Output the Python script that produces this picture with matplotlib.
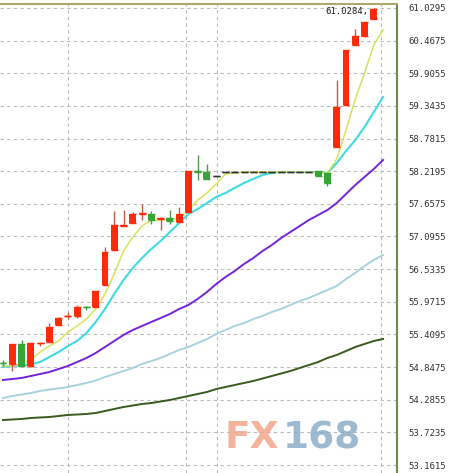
import numpy as np
import matplotlib.pyplot as plt

# candle data (price), one entry per bar
opens = [54.925, 54.901, 55.245, 54.866, 55.262, 55.280, 55.572, 55.727, 55.727, 55.885,
         55.882, 56.260, 56.863, 57.280, 57.328, 57.490, 57.490, 57.400, 57.414, 57.345,
         57.510, 58.215, 58.206, 58.140, 58.206, 58.206, 58.206, 58.206, 58.206, 58.206,
         58.206, 58.206, 58.206, 58.206, 58.223, 58.180, 58.636, 59.360, 60.393, 60.547,
         60.840]
highs = [54.970, 55.245, 55.314, 55.262, 55.270, 55.607, 55.710, 55.796, 55.917, 55.899,
         56.157, 56.915, 57.535, 57.552, 57.517, 57.655, 57.535, 57.430, 57.552, 57.600,
         58.223, 58.499, 58.344, 58.140, 58.206, 58.206, 58.206, 58.206, 58.206, 58.206,
         58.206, 58.206, 58.206, 58.206, 58.223, 58.189, 59.790, 60.306, 60.668, 60.788,
         61.0284]
lows = [54.866, 54.780, 54.866, 54.850, 55.211, 55.280, 55.572, 55.675, 55.693, 55.830,
        55.882, 56.260, 56.863, 57.280, 57.328, 57.380, 57.310, 57.210, 57.310, 57.345,
        57.510, 58.068, 58.086, 58.140, 58.206, 58.206, 58.206, 58.206, 58.206, 58.206,
        58.206, 58.206, 58.206, 58.206, 58.137, 57.965, 58.636, 59.360, 60.393, 60.530,
        60.840]
closes = [54.918, 55.245, 54.866, 55.262, 55.270, 55.538, 55.693, 55.735, 55.882, 55.875,
          56.157, 56.830, 57.294, 57.290, 57.483, 57.500, 57.380, 57.420, 57.362, 57.490,
          58.223, 58.210, 58.086, 58.140, 58.206, 58.206, 58.206, 58.206, 58.206, 58.206,
          58.206, 58.206, 58.206, 58.206, 58.137, 58.010, 59.325, 60.306, 60.547, 60.788,
          61.020]

# moving averages (drawn one bar further right than the candles)
ma_yellow = [54.866, 54.866, 54.901, 54.969, 55.107, 55.210, 55.297, 55.451, 55.555, 55.675,
             55.848, 56.106, 56.450, 56.846, 57.087, 57.276, 57.380, 57.380, 57.397, 57.397,
             57.552, 57.724, 57.845, 57.999, 58.172, 58.189, 58.206, 58.206, 58.206, 58.206,
             58.206, 58.206, 58.206, 58.206, 58.189, 58.189, 58.430, 58.929, 59.463, 59.910,
             60.392, 60.651]
ma_cyan = [54.849, 54.866, 54.875, 54.892, 54.935, 55.021, 55.107, 55.210, 55.297, 55.434,
           55.624, 55.848, 56.106, 56.347, 56.553, 56.725, 56.880, 57.018, 57.173, 57.328,
           57.483, 57.569, 57.672, 57.776, 57.845, 57.931, 58.017, 58.086, 58.154, 58.189,
           58.206, 58.206, 58.206, 58.206, 58.206, 58.189, 58.361, 58.568, 58.757, 58.981,
           59.239, 59.497]
ma_purple = [54.625, 54.642, 54.660, 54.694, 54.728, 54.763, 54.814, 54.866, 54.935, 55.004,
             55.090, 55.193, 55.297, 55.400, 55.486, 55.555, 55.624, 55.692, 55.761, 55.848,
             55.916, 56.020, 56.140, 56.278, 56.398, 56.502, 56.622, 56.725, 56.846, 56.949,
             57.070, 57.173, 57.276, 57.380, 57.466, 57.552, 57.672, 57.827, 57.982, 58.120,
             58.258, 58.413]
ma_lightblue = [54.315, 54.350, 54.375, 54.401, 54.436, 54.461, 54.479, 54.505, 54.539, 54.574,
                54.617, 54.677, 54.728, 54.780, 54.832, 54.901, 54.952, 55.004, 55.073, 55.142,
                55.193, 55.262, 55.331, 55.417, 55.486, 55.555, 55.606, 55.675, 55.727, 55.796,
                55.848, 55.916, 55.985, 56.037, 56.106, 56.175, 56.243, 56.364, 56.467, 56.588,
                56.691, 56.777]
ma_darkgreen = [53.936, 53.945, 53.954, 53.971, 53.980, 53.988, 54.005, 54.023, 54.031, 54.040,
                54.057, 54.091, 54.126, 54.160, 54.186, 54.212, 54.229, 54.255, 54.281, 54.315,
                54.350, 54.384, 54.419, 54.470, 54.505, 54.539, 54.574, 54.608, 54.651, 54.694,
                54.737, 54.780, 54.832, 54.883, 54.935, 55.004, 55.056, 55.124, 55.193, 55.245,
                55.297, 55.331]

price_ticks = [53.1615, 53.7235, 54.2855, 54.8475, 55.4095, 55.9715, 56.5335, 57.0955,
               57.6575, 58.2195, 58.7815, 59.3435, 59.9055, 60.4675, 61.0295]
vgrid_bars = [7.0, 19.74, 23.09, 40.78]
high_label = '61.0284'

fig = plt.figure(figsize=(4.5, 4.73), dpi=100)
ax = fig.add_axes([0, 0, 397 / 450, 1 - 4 / 473])

o = np.array(opens)
c = np.array(closes)
h = np.array(highs)
l = np.array(lows)
x = np.arange(len(o))
colors = np.where(c > o, '#ff2a0a', np.where(c < o, '#35a535', '#333333'))
wick_colors = np.where(c > o, '#c85a4a', np.where(c < o, '#4a9a4a', '#444444'))

# moving averages
xm = np.arange(len(ma_yellow))
ax.plot(xm, ma_darkgreen, color='#3b5a1e', lw=1.4, zorder=2)
ax.plot(xm, ma_lightblue, color='#a9d3dc', lw=1.4, zorder=2)
ax.plot(xm, ma_purple, color='#7424d8', lw=1.4, zorder=2)
ax.plot(xm, ma_cyan, color='#3fdbe3', lw=1.5, zorder=2)
ax.plot(xm, ma_yellow, color='#d9e35a', lw=1.1, zorder=2)

# candles
bw = 0.75
ax.vlines(x, l, h, colors=wick_colors, lw=1, zorder=3)
ax.bar(x, c - o, bottom=o, width=bw, color=colors, linewidth=0, zorder=4)
ax.hlines(o, x - bw / 2, x + bw / 2, colors=colors, lw=1, zorder=4)
ax.hlines(c, x - bw / 2, x + bw / 2, colors=colors, lw=1, zorder=4)

ax.text(len(o) - 1 - 0.55, highs[-1] - 0.06, high_label + ',', ha='right', va='center',
        fontsize=6.5, family='DejaVu Sans Mono', color='#222222', zorder=5)

ax.set_xlim(-0.324, 42.5)
ax.set_ylim(53.024, 61.098)

ax.set_yticks(price_ticks)
ax.set_yticklabels(['%.4f' % v for v in price_ticks], family='DejaVu Sans Mono',
                   fontsize=6.5, color='#333333')
ax.yaxis.tick_right()
ax.tick_params(axis='y', length=0, pad=8)
ax.set_xticks([])

ax.grid(axis='y', color='#bbbbbb', linestyle=(0, (3, 3)), lw=0.8)
for v in vgrid_bars:
    ax.axvline(v, color='#bbbbbb', linestyle=(0, (3, 3)), lw=0.8, zorder=1)

for s in ['left', 'bottom']:
    ax.spines[s].set_visible(False)
ax.spines['top'].set_color('#a8a870')
ax.spines['right'].set_color('#6f8a4a')
ax.spines['top'].set_linewidth(1.5)
ax.spines['right'].set_linewidth(1.5)

# watermark
fig.text(225 / 450, 1 - 438 / 473, 'FX', fontsize=27, fontweight='bold', color='#f2a184',
         alpha=0.8, ha='left', va='center')
fig.text(283 / 450, 1 - 438 / 473, '168', fontsize=27, fontweight='bold', color='#86a9c6',
         alpha=0.8, ha='left', va='center')

fig.savefig('out.png', dpi=100)
